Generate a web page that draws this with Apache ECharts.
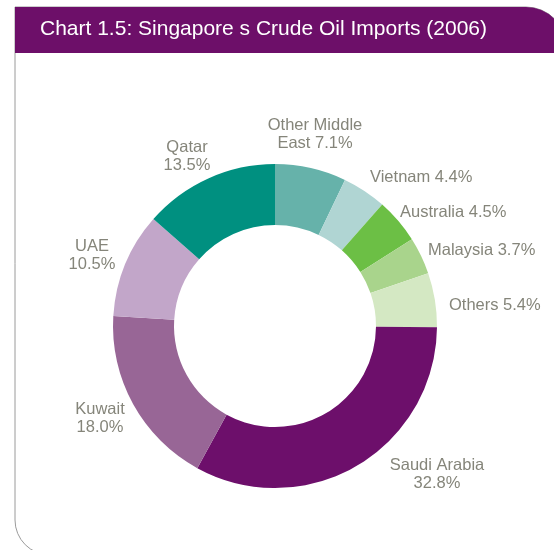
<!DOCTYPE html>
<html>
<head>
<meta charset="utf-8">
<script src="https://cdn.jsdelivr.net/npm/echarts@6/dist/echarts.min.js"></script>
<style>
  html, body { margin: 0; padding: 0; background: #fff; }
  #main { width: 554px; height: 550px; }
</style>
</head>
<body>
<div id="main"></div>
<script>
// clockwise from 12 o'clock
var countries = ['Other Middle East', 'Vietnam', 'Australia', 'Malaysia', 'Others',
                 'Saudi Arabia', 'Kuwait', 'UAE', 'Qatar'];
var shares = [7.1, 4.4, 4.5, 3.7, 5.4, 32.8, 18.0, 10.5, 13.5];
var labelTexts = ['Other Middle\nEast 7.1%', 'Vietnam 4.4%', 'Australia 4.5%', 'Malaysia 3.7%',
                  'Others 5.4%', 'Saudi Arabia\n32.8%', 'Kuwait\n18.0%', 'UAE\n10.5%', 'Qatar\n13.5%'];
var colors = ['#66b2aa', '#b0d5d3', '#6cbf45', '#a9d48c', '#d4e8c3',
              '#6d0f6b', '#986696', '#c2a6c9', '#009080'];

// where each label sits (x, y, align)
var labelSpots = [
    [315, 134, 'center'], [370, 177, 'left'], [400, 212, 'left'], [428, 250, 'left'],
    [449, 305, 'left'], [437, 474, 'center'], [100, 418, 'center'], [92, 255, 'center'],
    [187, 156, 'center']
];

function drawChart() {
    var chartDom = document.getElementById('main');
    var myChart = echarts.init(chartDom);
    var option;

    var pieData = countries.map(function (name, i) {
        return { name: name, value: shares[i], itemStyle: { color: colors[i] } };
    });

    option = {
        animation: false,
        graphic: {
            elements: [
                {
                    type: 'rect',
                    shape: { x: 15, y: 7, width: 551, height: 548, r: [0, 40, 0, 35] },
                    style: { fill: '#fff', stroke: '#9a9a9a', lineWidth: 1 },
                    z: -10
                },
                {
                    type: 'rect',
                    shape: { x: 15, y: 7, width: 551, height: 46, r: [0, 40, 0, 0] },
                    style: { fill: '#6d0f69' },
                    z: -9
                },
                {
                    type: 'text',
                    left: 40,
                    top: 19,
                    style: {
                        text: 'Chart 1.5: Singapore s Crude Oil Imports (2006)',
                        fill: '#fff',
                        fontSize: 21,
                        fontFamily: 'Liberation Sans, Arial, sans-serif'
                    }
                }
            ]
        },
        series: [
            {
                type: 'pie',
                center: [275, 326],
                radius: [101, 162],
                startAngle: 90,
                clockwise: true,
                silent: true,
                data: pieData,
                labelLine: { show: false },
                label: {
                    show: true,
                    position: 'outside',
                    overflow: 'none',
                    color: '#85857a',
                    fontSize: 16.5,
                    lineHeight: 18,
                    fontFamily: 'Liberation Sans, Arial, sans-serif',
                    formatter: function (p) { return labelTexts[p.dataIndex]; }
                },
                labelLayout: function (p) {
                    var s = labelSpots[p.dataIndex];
                    return { x: s[0], y: s[1], align: s[2], verticalAlign: 'middle' };
                }
            }
        ]
    };

    option && myChart.setOption(option);
}

document.addEventListener('DOMContentLoaded', function () {
    drawChart();
});
</script>
</body>
</html>
